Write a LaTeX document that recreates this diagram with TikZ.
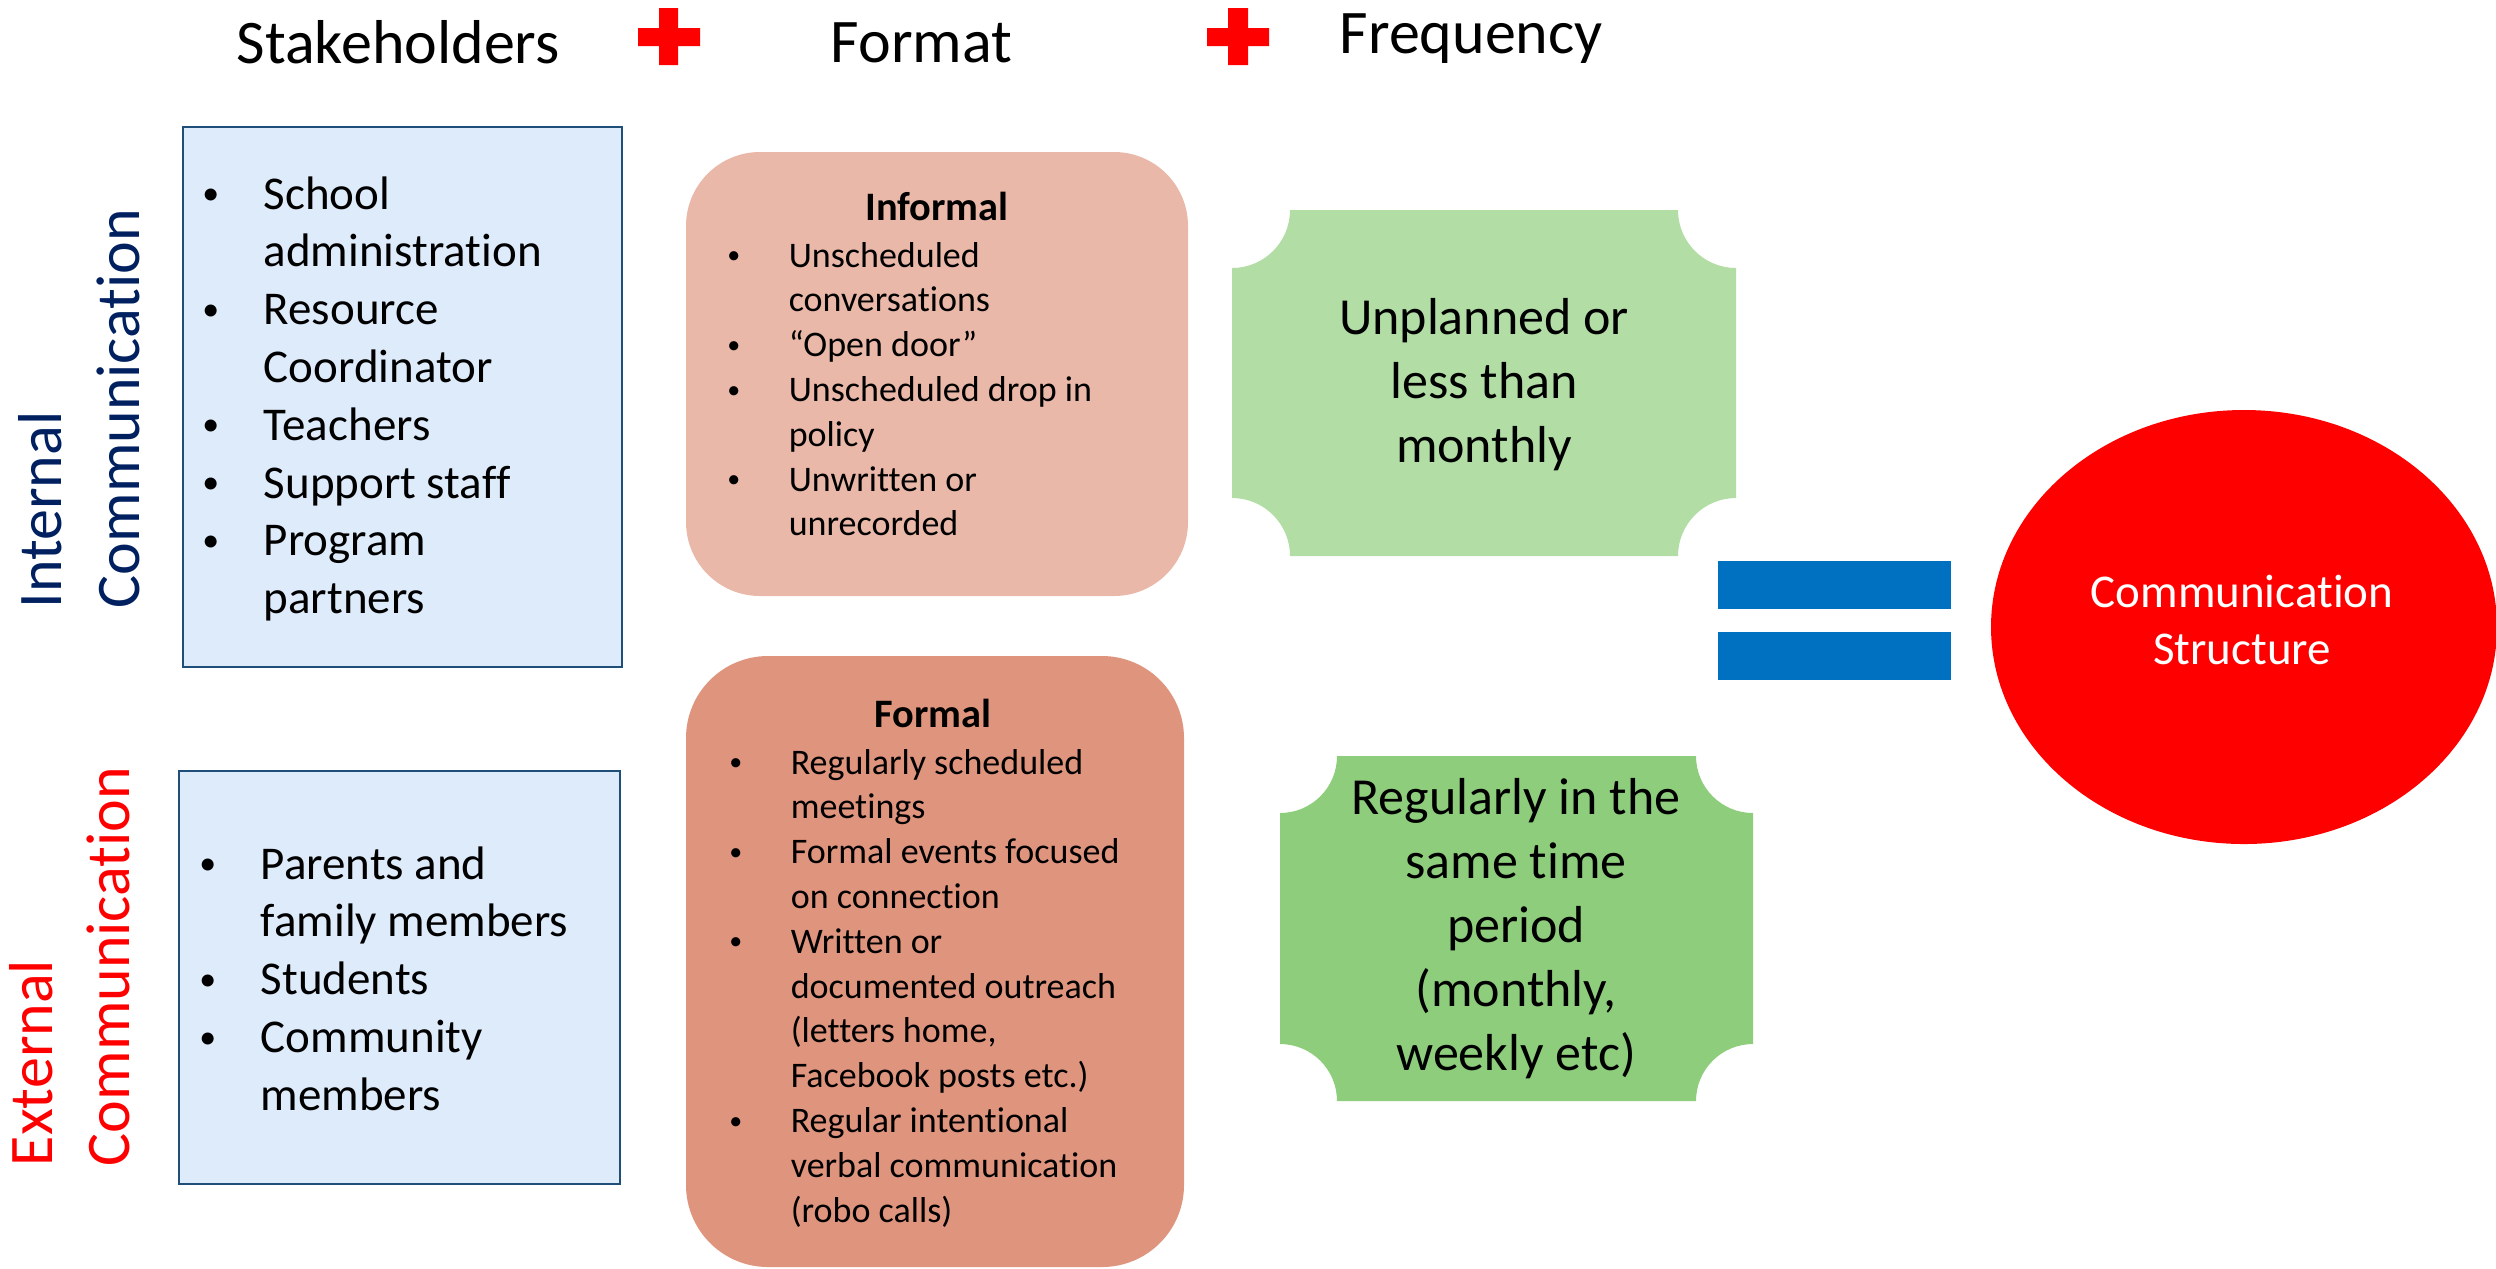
\documentclass[tikz,border=0pt]{standalone}
\usepackage{fontspec}
\setmainfont{Carlito}[Ligatures={TeX,NoCommon}]
\usetikzlibrary{shapes.geometric,fit}

\definecolor{labnavy}{RGB}{0,32,96}
\definecolor{labred}{RGB}{255,0,0}
\definecolor{boxblue}{RGB}{222,235,250}
\definecolor{boxline}{RGB}{31,78,121}
\definecolor{infcol}{RGB}{233,184,168}
\definecolor{fmlcol}{RGB}{223,148,126}
\definecolor{grnlt}{RGB}{178,222,166}
\definecolor{grndk}{RGB}{142,205,124}
\definecolor{eqblue}{RGB}{0,112,192}

\newlength\bulw
\newcommand\bitem{\leavevmode\llap{\makebox[\bulw][c]{\raisebox{0.09em}{\scalebox{0.72}{\textbullet}}}}}

\begin{document}
\begin{tikzpicture}[x=0.25pt,y=-0.25pt,
  headtxt/.style={anchor=base west, inner sep=0pt, font=\fontsize{15.5}{18.6}\selectfont},
  sidelbl/.style={anchor=base west, inner sep=0pt, rotate=90},
  listtxt/.style={anchor=base west, inner sep=0pt},
  ctrtxt/.style={anchor=base, inner sep=0pt},
  stakebox/.style={inner sep=0pt, fill=boxblue, draw=boxline, line width=0.55pt},
  fmtbox/.style={inner sep=0pt, draw=none}]
\useasboundingbox (0,0) rectangle (2496,1268);

% column headings and plus signs
\node[headtxt] (hstake) at (236,63) {Stakeholders};
\node[headtxt] (hformat) at (830,62) {Format};
\node[headtxt] (hfreq) at (1339,53) {Frequency};
\fill[labred] (659,8) rectangle (678,65) (638,28) rectangle (700,46);
\fill[labred] (1228,8) rectangle (1248,65) (1207,28) rectangle (1269,46);

% side labels
\node[sidelbl, text=labnavy] (intlbl) at (62,609)
  {\parbox[t]{140pt}{\raggedright\fontsize{15.5}{19.5}\selectfont Internal\\Communication}};
\node[sidelbl, text=labred] (extlbl) at (52,1167)
  {\parbox[t]{140pt}{\raggedright\fontsize{15.5}{19.25}\selectfont External\\Communication}};

% stakeholder boxes
\node[stakebox, fit={(183,127) (622,667)}] (intbox) {};
\node[stakebox, fit={(179,771) (620,1184)}] (extbox) {};

\node[listtxt] (intlist) at (263,209) {\parbox[t]{95pt}{\raggedright
  \fontsize{11.75}{14.45}\selectfont\setlength\bulw{26.5pt}%
  \bitem School\\administration\\
  \bitem Resource\\Coordinator\\
  \bitem Teachers\\
  \bitem Support staff\\
  \bitem Program\\partners}};

\node[listtxt] (extlist) at (260,879) {\parbox[t]{95pt}{\raggedright
  \fontsize{11.75}{14.45}\selectfont\setlength\bulw{26.5pt}%
  \bitem Parents and\\family members\\
  \bitem Students\\
  \bitem Community\\members}};

% format boxes
\node[fmtbox, fill=infcol, rounded corners=18.5pt, fit={(686,152) (1188,596)}] (infbox) {};
\node[fmtbox, fill=fmlcol, rounded corners=20.5pt, fit={(686,656) (1184,1267)}] (fmlbox) {};

\node[ctrtxt, font=\fontsize{10.1}{12}\selectfont\bfseries] (infhead) at (937,220) {Informal};
\node[listtxt] (inflist) at (788,267) {\parbox[t]{95pt}{\raggedright
  \fontsize{9}{11.2}\selectfont\setlength\bulw{27.5pt}%
  \bitem Unscheduled\\conversations\\
  \bitem “Open door”\\
  \bitem Unscheduled drop in\\policy\\
  \bitem Unwritten or\\unrecorded}};

\node[ctrtxt, font=\fontsize{10.1}{12}\selectfont\bfseries] (fmlhead) at (933,727) {Formal};
\node[listtxt] (fmllist) at (790,774) {\parbox[t]{95pt}{\raggedright
  \fontsize{9}{11.2}\selectfont\setlength\bulw{27.5pt}%
  \bitem Regularly scheduled\\meetings\\
  \bitem Formal events focused\\on connection\\
  \bitem Written or\\documented outreach\\(letters home,\\Facebook posts etc.)\\
  \bitem Regular intentional\\verbal communication\\(robo calls)}};

% frequency plaques with concave corners
\fill[grnlt] (1232,268) arc[start angle=90,end angle=0,radius=58]
  -- (1678,210) arc[start angle=180,end angle=90,radius=58]
  -- (1736,498) arc[start angle=270,end angle=180,radius=58]
  -- (1290,556) arc[start angle=0,end angle=-90,radius=58] -- cycle;
\fill[grndk] (1280,813) arc[start angle=90,end angle=0,radius=57]
  -- (1696,756) arc[start angle=180,end angle=90,radius=57]
  -- (1753,1044) arc[start angle=270,end angle=180,radius=57]
  -- (1337,1101) arc[start angle=0,end angle=-90,radius=57] -- cycle;

\node[ctrtxt] (freq1) at (1484,334) {\parbox[t]{115pt}{\centering
  \fontsize{13}{16}\selectfont Unplanned or\\less than\\monthly}};
\node[ctrtxt] (freq2) at (1516,814) {\parbox[t]{115pt}{\centering
  \fontsize{13}{16}\selectfont Regularly in the\\same time\\period\\(monthly,\\weekly etc)}};

% equals sign
\fill[eqblue] (1718,561) rectangle (1951,609);
\fill[eqblue] (1718,632) rectangle (1951,680);

% result
\node[ellipse, fill=labred, inner sep=0pt, minimum width=126.5pt, minimum height=108.5pt] (csell) at (2244,627) {};
\node[ctrtxt, text=white] (cstext) at (2242,607) {\parbox[t]{110pt}{\centering
  \fontsize{11.75}{14.25}\selectfont Communication\\Structure}};
\end{tikzpicture}
\end{document}
